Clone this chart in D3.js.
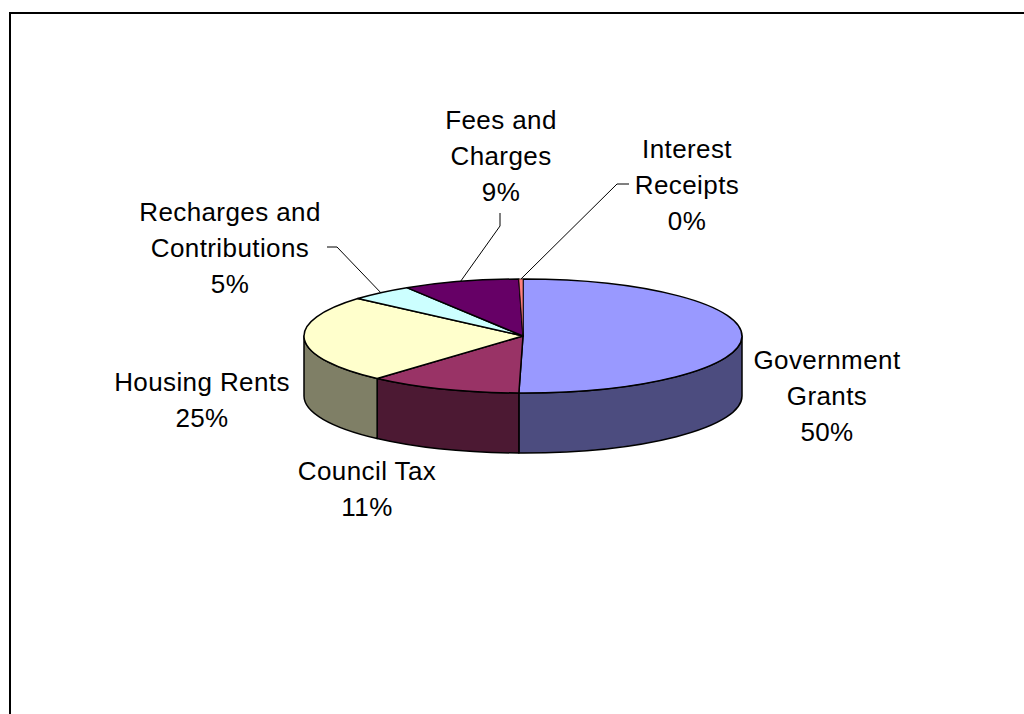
<!DOCTYPE html>
<html>
<head>
<meta charset="utf-8">
<script src="https://cdn.jsdelivr.net/npm/d3@7"></script>
<style>
  body { margin: 0; background: #fff; }
  text { font-family: "Liberation Sans", Arial, sans-serif; font-size: 26px; letter-spacing: 0.4px; fill: #000; }
</style>
</head>
<body>
<script>
const width = 1024;
const height = 714;

// data, clockwise from 12 o'clock
const categories = ["Government Grants", "Council Tax", "Housing Rents", "Recharges and Contributions", "Fees and Charges", "Interest Receipts"];
const values = [50.3, 11.3, 24.8, 4.7, 8.6, 0.3];
const labelLines = [["Government", "Grants"], ["Council Tax"], ["Housing Rents"], ["Recharges and", "Contributions"], ["Fees and", "Charges"], ["Interest", "Receipts"]];
const topColors = ["#9999FF", "#993366", "#FFFFCC", "#CCFFFF", "#660066", "#FF8080"];
const sideColors = ["#4C4C7F", "#4C1933", "#7F7F66", "#667F7F", "#330033", "#7F4040"];

// label layout: centre x, first baseline, leader start (if any)
const labelLayout = [
  { x: 827, y: 369 },
  { x: 367, y: 480 },
  { x: 202, y: 391 },
  { x: 230, y: 221, leader: [[327, 247], [337, 247]] },
  { x: 501, y: 129, leader: [[500, 213], [500, 226]] },
  { x: 687, y: 158, leader: [[629, 184], [617, 184]] },
];

const cx = 523, cy = 336, rx = 219, ry = 57, depth = 60;
const lineH = 36;

const svg = d3.select("body").append("svg").attr("width", width).attr("height", height);

svg.append("rect")
  .attr("x", 10).attr("y", 13)
  .attr("width", 1100).attr("height", 800)
  .attr("fill", "none").attr("stroke", "#000").attr("stroke-width", 2);

const pie = d3.pie().sort(null).value((d) => d.value);
const arcs = pie(categories.map((c, i) => ({ name: c, value: values[i], i })));

const pt = (a, dy = 0) => [cx + rx * Math.sin(a), cy - ry * Math.cos(a) + dy];

function topPath(d) {
  const p0 = pt(d.startAngle), p1 = pt(d.endAngle);
  const large = d.endAngle - d.startAngle > Math.PI ? 1 : 0;
  return `M${cx},${cy}L${p0}A${rx},${ry} 0 ${large} 1 ${p1}Z`;
}

function sidePath(d) {
  const a0 = Math.max(d.startAngle, Math.PI / 2);
  const a1 = Math.min(d.endAngle, Math.PI * 1.5);
  if (a1 <= a0) return null;
  const p0 = pt(a0), p1 = pt(a1);
  const q0 = pt(a0, depth), q1 = pt(a1, depth);
  return `M${p0}A${rx},${ry} 0 0 1 ${p1}L${q1}A${rx},${ry} 0 0 0 ${q0}Z`;
}

const chart = svg.append("g");

chart.selectAll("path.side")
  .data(arcs.filter((d) => sidePath(d)))
  .join("path")
  .attr("class", "side")
  .attr("d", sidePath)
  .attr("fill", (d) => sideColors[d.data.i])
  .attr("stroke", "#000")
  .attr("stroke-width", 1.5)
  .attr("stroke-linejoin", "round");

chart.selectAll("path.top")
  .data(arcs)
  .join("path")
  .attr("class", "top")
  .attr("d", topPath)
  .attr("fill", (d) => topColors[d.data.i])
  .attr("stroke", "#000")
  .attr("stroke-width", (d) => (d.data.value < 1 ? 0.6 : 1.5))
  .attr("stroke-linejoin", "round");

// leader lines
const leaders = svg.append("g");
arcs.forEach((d, i) => {
  const l = labelLayout[i];
  if (!l.leader) return;
  const mid = (d.startAngle + d.endAngle) / 2;
  const pts = l.leader.concat([pt(mid)]);
  leaders.append("path")
    .attr("d", d3.line()(pts))
    .attr("fill", "none")
    .attr("stroke", "#000")
    .attr("stroke-width", 1);
});

// labels
const labels = svg.append("g");
arcs.forEach((d, i) => {
  const l = labelLayout[i];
  const lines = labelLines[i].concat([Math.round(values[i]) + "%"]);
  const t = labels.append("text").attr("text-anchor", "middle");
  lines.forEach((s, k) => {
    t.append("tspan").attr("x", l.x).attr("y", l.y + k * lineH).text(s);
  });
});
</script>
</body>
</html>
